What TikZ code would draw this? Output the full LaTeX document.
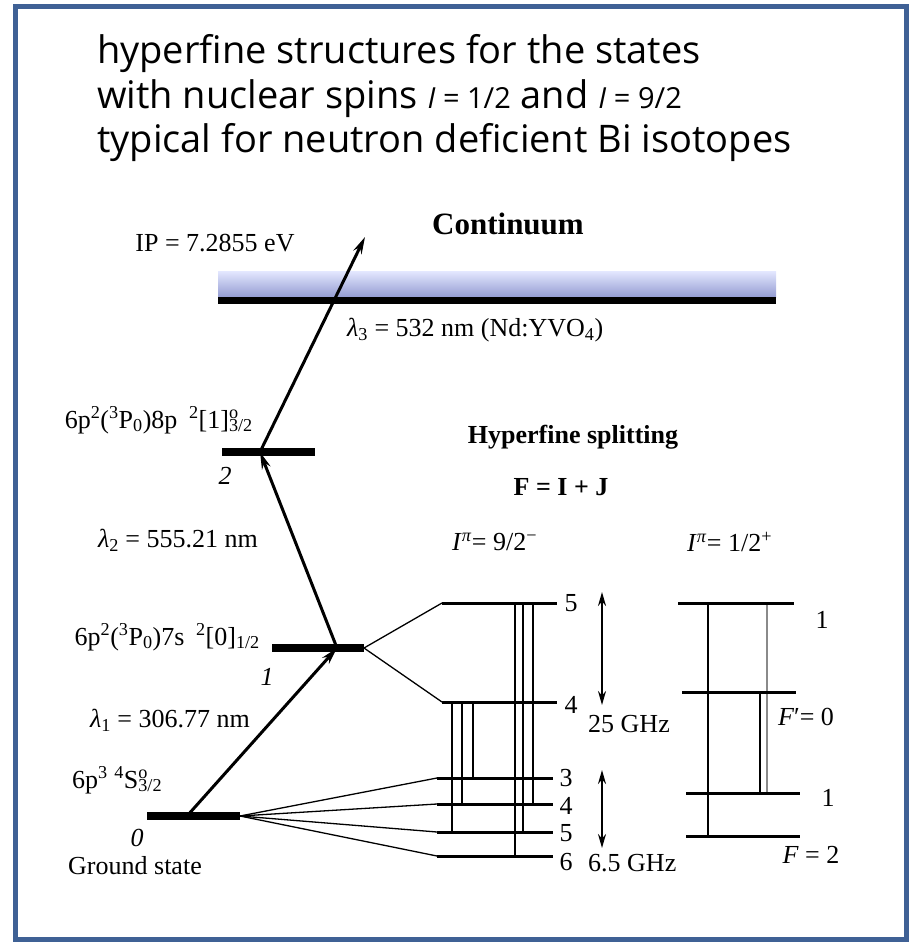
\documentclass[tikz,border=0pt]{standalone}
\usepackage{fontspec}
\setmainfont{Liberation Serif}
\newfontfamily\titlefont{Open Sans}
\usetikzlibrary{arrows.meta}
\definecolor{framecol}{HTML}{3F6195}
\definecolor{bandtop}{HTML}{E4E8FF}
\definecolor{bandbot}{HTML}{949CD2}
\definecolor{graytr}{HTML}{8A8A8A}
\newcommand{\mysupsub}[2]{\makebox[0pt][l]{\textsuperscript{#1}}\textsubscript{#2}}
\begin{document}
\begin{tikzpicture}[x=1pt,y=-1pt,
  txt/.style={font=\fontsize{26}{30}\selectfont, inner sep=0pt},
  itxt/.style={font=\fontsize{26}{30}\selectfont\itshape, inner sep=0pt},
  btxt/.style={font=\fontsize{26}{30}\selectfont\bfseries, inner sep=0pt},
  ttl/.style={font=\titlefont\fontsize{38}{44}\selectfont, inner sep=0pt, anchor=base west},
  lvl/.style={line width=8pt},
  hfs/.style={line width=3pt},
  tr/.style={line width=1.6pt},
  fan/.style={line width=1.3pt},
  exc/.style={line width=3pt, -{Stealth[length=17pt,width=9pt]}},
  dbl/.style={line width=2pt, {Stealth[length=14pt,width=8pt]}-{Stealth[length=14pt,width=8pt]}},
]
\useasboundingbox (0,0) rectangle (912,945);
\draw[framecol, line width=5pt] (15,6) rectangle (906,939);

% title
\node[ttl] (t1) at (97,63) {hyperfine structures for the states};
\node[ttl] (t2) at (97,108) {with nuclear spins {\fontsize{29}{30}\selectfont\textit{I} = 1/2} and {\fontsize{29}{30}\selectfont\textit{I} = 9/2}};
\node[ttl] (t3) at (97,152) {typical for neutron deficient Bi isotopes};

% continuum
\shade[top color=bandtop, bottom color=bandbot] (218,271) rectangle (776,297);
\fill (218,297) rectangle (776,304);
\node[btxt, font=\fontsize{31}{32}\selectfont\bfseries] (cont) at (508,224) {Continuum};
\node[txt] (ip) at (215,243) {IP = 7.2855 eV};
\node[txt, anchor=west] (l3) at (347,330) {\textit{λ}\textsubscript{3} = 532 nm (Nd:YVO\textsubscript{4})};

% atomic levels
\coordinate (L2a) at (222,452); \coordinate (L2b) at (315,452); \coordinate (L2j) at (260,452);
\coordinate (L1a) at (272,648); \coordinate (L1b) at (364,648); \coordinate (L1j) at (337,648);
\coordinate (Ga) at (147,816); \coordinate (Gb) at (240,816); \coordinate (Gj) at (187,816);
\coordinate (IPtip) at (365,237);

\draw[exc] (Gj) -- (L1j);
\draw[exc] (L1j) -- (L2j);
\draw[exc] (L2j) -- (IPtip);
\draw[lvl] (L2a) -- (L2b);
\draw[lvl] (L1a) -- (L1b);
\draw[lvl] (Ga) -- (Gb);

\node[txt, anchor=base east] (lab2) at (253,428) {6p\textsuperscript{2}(\textsuperscript{3}P\textsubscript{0})8p\hspace{0.45em}\textsuperscript{2}[1]\mysupsub{o}{3/2}};
\node[itxt] (n2) at (225,476) {2};
\node[txt, anchor=east] (l2) at (258,540) {\textit{λ}\textsubscript{2} = 555.21 nm};
\node[txt, anchor=base east] (lab1) at (260,645) {6p\textsuperscript{2}(\textsuperscript{3}P\textsubscript{0})7s\hspace{0.45em}\textsuperscript{2}[0]\textsubscript{1/2}};
\node[itxt] (n1) at (267,677) {1};
\node[txt, anchor=east] (l1) at (250,720) {\textit{λ}\textsubscript{1} = 306.77 nm};
\node[txt, anchor=base west] (lab0) at (72,788) {6p\textsuperscript{3} \textsuperscript{4}S\mysupsub{o}{3/2}};
\node[itxt] (n0) at (137,838) {0};
\node[txt] (gs) at (135,866) {Ground state};

% hyperfine headings
\node[btxt] (hfs) at (573,437) {Hyperfine splitting};
\node[btxt] (fij) at (561,487) {F = I + J};
\node[txt, anchor=west] (ip9) at (452,542) {\textit{I}\textsuperscript{\textit{π}}= 9/2\textsuperscript{−}};
\node[txt, anchor=west] (ip1) at (687,542) {\textit{I}\textsuperscript{\textit{π}}= 1/2\textsuperscript{+}};

% I = 9/2 levels
\coordinate (U5a) at (442,603); \coordinate (U5b) at (557,603);
\coordinate (U4a) at (442,702); \coordinate (U4b) at (557,702);
\coordinate (D3a) at (437,778); \coordinate (D3b) at (553,778);
\coordinate (D4a) at (437,804); \coordinate (D4b) at (553,804);
\coordinate (D5a) at (437,832); \coordinate (D5b) at (553,832);
\coordinate (D6a) at (437,856); \coordinate (D6b) at (553,856);

\draw[fan] (L1b) -- (U5a);
\draw[fan] (L1b) -- (U4a);
\draw[fan] (Gb) -- (D3a);
\draw[fan] (Gb) -- (D4a);
\draw[fan] (Gb) -- (D5a);
\draw[fan] (Gb) -- (D6a);

\draw[tr] (452,702) -- (452,832);
\draw[tr] (462,702) -- (462,804);
\draw[tr] (473,702) -- (473,778);
\draw[tr] (515,603) -- (515,856);
\draw[tr] (523,603) -- (523,832);
\draw[tr] (533,603) -- (533,804);

\draw[hfs] (U5a) -- (U5b);
\draw[hfs] (U4a) -- (U4b);
\draw[hfs] (D3a) -- (D3b);
\draw[hfs] (D4a) -- (D4b);
\draw[hfs] (D5a) -- (D5b);
\draw[hfs] (D6a) -- (D6b);

\node[txt] (f5u) at (571,603) {5};
\node[txt] (f4u) at (571,705) {4};
\node[txt] (f3d) at (566,778) {3};
\node[txt] (f4d) at (566,806) {4};
\node[txt] (f5d) at (566,833) {5};
\node[txt] (f6d) at (566,862) {6};

\coordinate (A1t) at (602,592); \coordinate (A1b) at (602,705);
\coordinate (A2t) at (602,770); \coordinate (A2b) at (602,848);
\draw[dbl] (A1t) -- (A1b);
\draw[dbl] (A2t) -- (A2b);
\node[txt, anchor=west] (g25) at (588,724) {25 GHz};
\node[txt, anchor=west] (g65) at (588,863) {6.5 GHz};

% I = 1/2 levels
\coordinate (R1a) at (678,603); \coordinate (R1b) at (794,603);
\coordinate (R0a) at (682,692); \coordinate (R0b) at (796,692);
\coordinate (Q1a) at (686,793); \coordinate (Q1b) at (800,793);
\coordinate (Q2a) at (686,836); \coordinate (Q2b) at (800,836);
\draw[tr] (708,603) -- (708,836);
\draw[tr, graytr] (767,603) -- (767,793);
\draw[tr] (760,692) -- (760,793);
\draw[hfs] (R1a) -- (R1b);
\draw[hfs] (R0a) -- (R0b);
\draw[hfs] (Q1a) -- (Q1b);
\draw[hfs] (Q2a) -- (Q2b);
\node[txt] (r1) at (822,620) {1};
\node[txt] (r0) at (806,717) {\textit{F}′= 0};
\node[txt] (q1) at (828,798) {1};
\node[txt] (q2) at (811,855) {\textit{F} = 2};
\end{tikzpicture}
\end{document}
